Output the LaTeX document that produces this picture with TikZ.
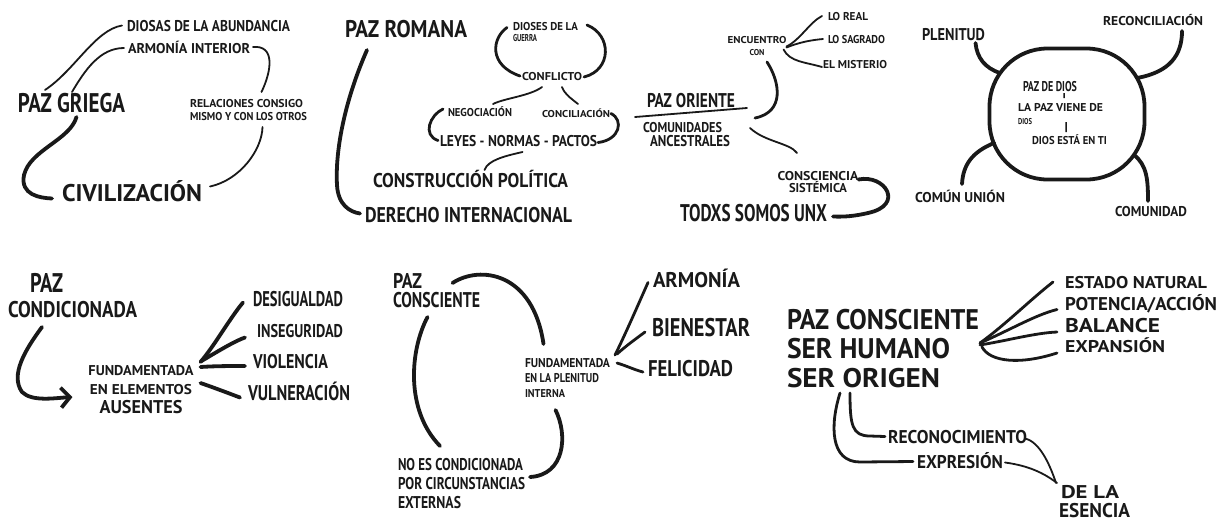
\documentclass[tikz,border=0pt]{standalone}
\usepackage{graphicx}
\usepackage{fontspec}
\setmainfont{PT Sans}
\usetikzlibrary{calc,arrows.meta,shapes.geometric}
\newcommand\lb[3]{\resizebox{#1pt}{#2pt}{\vphantom{A}\smash{#3}}}
\tikzset{
 lbl/.style={inner sep=0pt, outer sep=0pt, font=\bfseries\fontsize{10}{#1}\selectfont, text=black!90},
 lbl/.default=12,
 lnA/.style={line width=1.8pt, line cap=round, draw=black!90},
 lnB/.style={line width=2.8pt, line cap=round, draw=black!90},
 lnC/.style={line width=3.8pt, line cap=round, draw=black!90},
}
\begin{document}
\begin{tikzpicture}[x=1pt,y=-1pt]
\useasboundingbox (0,0) rectangle (1225,523);
% ---------- Paz griega
\node[lbl,anchor=north west] (dios) at (127,20) {\lb{163}{11}{DIOSAS DE LA ABUNDANCIA}};
\node[lbl,anchor=north west] (armi) at (128,43) {\lb{122}{10}{ARMONÍA INTERIOR}};
\node[lbl,anchor=north west] (pg) at (18,93) {\lb{107}{19}{PAZ GRIEGA}};
\node[lbl=13,anchor=north west,align=left] (rel) at (190,99) {\lb{113}{8}{RELACIONES CONSIGO}\\\lb{117}{8}{MISMO Y CON LOS OTROS}};
\node[lbl,anchor=north west] (civ) at (62,184) {\lb{140}{17}{CIVILIZACIÓN}};
\draw[lnA] ($(pg.north west)+(27,-3)$) .. controls (75,70) and (95,30) .. ($(dios.west)+(-5,0)$);
\draw[lnA] ($(pg.north west)+(54,-1)$) .. controls (85,70) and (100,48) .. ($(armi.west)+(-4,0)$);
\draw[lnA] ($(armi.east)+(3,-1)$) .. controls (275,45) and (272,70) .. ($(rel.north)+(13,-7)$);
\draw[lnA] ($(rel.south)+(14,7)$) .. controls (262,150) and (240,180) .. ($(civ.east)+(8,-6)$);
\draw[lnC] ($(pg.south)+(5,5)$) .. controls (70,140) and (30,150) .. (24,175) .. controls (20,195) and (40,198) .. ($(civ.west)+(-10,6)$);
% ---------- Paz romana
\node[lbl,anchor=north west] (pr) at (345,20) {\lb{122}{17}{PAZ ROMANA}};
\node[lbl=11,anchor=north west,align=left] (dg) at (513,22) {\lb{65}{8}{DIOSES DE LA}\\\lb{24}{7}{GUERRA}};
\node[lbl,anchor=north west] (conf) at (522,72) {\lb{60}{8}{CONFLICTO}};
\node[lbl,anchor=north west] (neg) at (448,108) {\lb{64}{8}{NEGOCIACIÓN}};
\node[lbl,anchor=north west] (conc) at (542,110) {\lb{68}{7}{CONCILIACIÓN}};
\node[lbl,anchor=north west] (leyes) at (440,135) {\lb{157}{11}{LEYES - NORMAS - PACTOS}};
\node[lbl,anchor=north west] (cp) at (373,173) {\lb{195}{14}{CONSTRUCCIÓN POLÍTICA}};
\node[lbl,anchor=north west] (di) at (365,207) {\lb{207}{15}{DERECHO INTERNACIONAL}};
\draw[lnC] ($(pr.south west)+(22,13)$) .. controls (345,100) and (335,150) .. (337,185) .. controls (338,205) and (350,212) .. ($(di.west)+(-5,-1)$);
\draw[lnB] ($(dg.west)+(-6,-4)$) .. controls (492,38) and (488,65) .. ($(conf.west)+(-2,0)$);
\draw[lnB] ($(dg.north east)+(9,3)$) .. controls (612,35) and (612,70) .. ($(conf.east)+(2,1)$);
\draw[lnA] ($(conf.south)+(-10,7)$) .. controls (530,96) and (505,98) .. ($(neg.north)+(13,-4)$);
\draw[lnA] ($(conf.south)+(10,7)$) .. controls (565,95) and (572,99) .. ($(conc.north)+(2,-6)$);
\draw[lnB] ($(neg.west)+(-5,-3)$) .. controls (430,115) and (422,135) .. ($(leyes.west)+(-2,0)$);
\draw[lnB] ($(conc.east)+(1,0)$) .. controls (624,120) and (620,140) .. ($(leyes.east)+(1,2)$);
\draw[lnA] ($(leyes.south)+(4,6)$) .. controls (505,156) and (488,160) .. ($(cp.north)+(14,-3)$);
% ---------- Paz oriente
\node[lbl,anchor=north west] (po) at (647,93) {\lb{88}{14}{PAZ ORIENTE}};
\draw[lnA] ($(po.south west)+(-12,10)$) -- ($(po.south east)+(12,1)$);
\node[lbl=14,anchor=north west,align=left] (ca) at (643,122) {\lb{79}{10}{COMUNIDADES}\\\hspace*{7pt}\lb{80}{11}{ANCESTRALES}};
\node[lbl=12,anchor=north,align=center] (enc) at (757,36) {\lb{59}{7}{ENCUENTRO}\\\lb{15}{6}{CON}};
\node[lbl,anchor=north west] (lreal) at (828,12) {\lb{40}{8}{LO REAL}};
\node[lbl,anchor=north west] (lsag) at (828,35) {\lb{57}{8}{LO SAGRADO}};
\node[lbl,anchor=north west] (mist) at (823,60) {\lb{64}{8}{EL MISTERIO}};
\node[lbl=12,anchor=north,align=center] (csis) at (818,171) {\lb{81}{9}{CONSCIENCIA}\\\lb{58}{9}{SISTÉMICA}};
\node[lbl,anchor=north west] (todx) at (680,204) {\lb{147}{17}{TODXS SOMOS UNX}};
\draw[lnB] ($(enc.south)+(10,7)$) .. controls (780,82) and (785,112) .. ($(po.south east)+(20,11)$);
\draw[lnA] ($(enc.east)+(0,1)$) .. controls (800,40) and (810,22) .. ($(lreal.west)+(-6,0)$);
\draw[lnA] ($(enc.east)+(0,2)$) .. controls (800,42) and (812,40) .. ($(lsag.west)+(-5,0)$);
\draw[lnA] ($(enc.east)+(-3,4)$) .. controls (790,62) and (805,62) .. ($(mist.west)+(-1,3)$);
\draw[lnA] ($(ca.north east)+(20,6)$) .. controls (765,142) and (790,143) .. ($(csis.north)+(-21,-18)$);
\draw[lnC] ($(csis.east)+(0,-2)$) .. controls (885,174) and (905,205) .. (868,213) .. controls (855,216) and (845,217) .. ($(todx.east)+(6,4)$);
% ---------- Paz de Dios
\node[draw=black!90, rectangle, rounded corners=58pt, line width=3.8pt, minimum width=155pt, minimum height=131pt, inner sep=0pt] (circ) at (1067,114) {};
\node[lbl,anchor=north west] (pdd) at (1023,81) {\lb{54}{10}{PAZ DE DIOS}};
\node[lbl=13,anchor=north west,align=left] (lpv) at (1018,103) {\lb{85}{8}{LA PAZ VIENE DE}\\\lb{14}{6}{DIOS}};
\node[lbl,anchor=north west] (det) at (1032,136) {\lb{75}{8}{DIOS ESTÁ EN TI}};
\draw[line width=1.5pt, draw=black!90] ($(pdd.south)+(14,2)$) -- ($(lpv.north)+(3.5,-5)$);
\draw[line width=1.5pt, draw=black!90] ($(lpv.south)+(5.5,-2)$) -- ($(det.north)+(-3.5,-4)$);
\node[lbl,anchor=north west] (plen) at (922,28) {\lb{63}{12}{PLENITUD}};
\node[lbl,anchor=north west] (reco) at (1103,16) {\lb{100}{9}{RECONCILIACIÓN}};
\node[lbl,anchor=north west] (cu) at (915,192) {\lb{90}{10}{COMÚN UNIÓN}};
\node[lbl,anchor=north west] (comu) at (1115,206) {\lb{72}{10}{COMUNIDAD}};
\draw[lnC] ($(plen.south)+(22,3)$) .. controls (977,58) and (985,68) .. ($(circ.center)+(-67,-41)$);
\draw[lnC] ($(reco.south)+(29,6)$) .. controls (1182,55) and (1170,72) .. ($(circ.center)+(70,-36)$);
\draw[lnC] ($(circ.center)+(-73,29)$) .. controls (972,152) and (963,165) .. ($(cu.north)+(2,-8)$);
\draw[lnC] ($(circ.center)+(67,41)$) .. controls (1147,165) and (1148,180) .. ($(comu.north)+(-3,-5)$);
% ---------- Paz condicionada
\node[lbl=25,anchor=north west,align=left] (pcond) at (8,273) {\hspace*{22pt}\lb{33}{19}{PAZ}\\\lb{129}{16}{CONDICIONADA}};
\node[lbl=19,anchor=north,align=center] (fea) at (141,365) {\lb{105}{10}{FUNDAMENTADA}\\\lb{102}{10}{EN ELEMENTOS}\\\lb{83}{13}{AUSENTES}};
\node[lbl,anchor=north west] (desig) at (253,291) {\lb{90}{15}{DESIGUALDAD}};
\node[lbl,anchor=north west] (inseg) at (257,324) {\lb{86}{13}{INSEGURIDAD}};
\node[lbl,anchor=north west] (viol) at (253,354) {\lb{75}{14}{VIOLENCIA}};
\node[lbl,anchor=north west] (vuln) at (248,385) {\lb{102}{15}{VULNERACIÓN}};
\draw[lnC,-{Straight Barb[length=9pt,width=20pt]}] ($(pcond.south west)+(34,10)$) .. controls (25,350) and (10,375) .. (22,392) .. controls (32,402) and (55,398) .. ($(fea.west)+(-16,8)$);
\draw[lnC] ($(fea.north east)+(7,-3)$) .. controls (215,345) and (230,318) .. ($(desig.west)+(-10,4)$);
\draw[lnC] ($(fea.north east)+(8,-4)$) .. controls (220,350) and (235,341) .. ($(inseg.west)+(-12,7)$);
\draw[lnC] ($(fea.north east)+(7,2)$) .. controls (215,366) and (230,366) .. ($(viol.west)+(-8,5)$);
\draw[lnC] ($(fea.east)+(7,-6)$) .. controls (215,388) and (228,393) .. ($(vuln.west)+(-8,5)$);
% ---------- Paz consciente
\node[lbl=19,anchor=north west,align=left] (pcons) at (393,273) {\lb{29}{15}{PAZ}\\\lb{87}{15}{CONSCIENTE}};
\node[lbl=15,anchor=north west,align=left] (fpi) at (525,358) {\lb{85}{9}{FUNDAMENTADA}\\\lb{74}{9}{EN LA PLENITUD}\\\lb{40}{8}{INTERNA}};
\node[lbl=19,anchor=north west,align=left] (nocond) at (398,458) {\lb{125}{12}{NO ES CONDICIONADA}\\\lb{127}{12}{POR CIRCUNSTANCIAS}\\\lb{63}{12}{EXTERNAS}};
\node[lbl,anchor=north west] (arm) at (653,272) {\lb{87}{15}{ARMONÍA}};
\node[lbl,anchor=north west] (bien) at (652,318) {\lb{98}{18}{BIENESTAR}};
\node[lbl,anchor=north west] (feli) at (648,360) {\lb{85}{16}{FELICIDAD}};
\draw[lnC] ($(pcons.north)+(16,10)$) .. controls (480,265) and (533,272) .. ($(fpi.north)+(-24,-14)$);
\draw[lnC] ($(pcons.south)+(-9,10)$) .. controls (410,350) and (405,410) .. ($(nocond.north west)+(42,-12)$);
\draw[lnC] ($(fpi.south)+(-12,13)$) .. controls (568,435) and (565,475) .. ($(nocond.east)+(5,-6)$);
\draw[lnB] ($(fpi.north east)+(5,-3)$) .. controls (625,335) and (638,305) .. ($(arm.west)+(-5,3)$);
\draw[lnB] ($(fpi.north east)+(7,-4)$) .. controls (627,345) and (637,338) .. ($(bien.west)+(-7,5)$);
\draw[lnB] ($(fpi.north east)+(7,5)$) .. controls (627,366) and (635,370) .. ($(feli.west)+(-5,4)$);
% ---------- Paz consciente / ser humano / ser origen
\node[lbl=29,anchor=north west,align=left] (pser) at (787,309) {\lb{192}{20}{PAZ CONSCIENTE}\\\lb{163}{20}{SER HUMANO}\\\lb{153}{19}{SER ORIGEN}};
\node[lbl,anchor=north west] (est) at (1065,276) {\lb{142}{12}{ESTADO NATURAL}};
\node[lbl,anchor=north west] (pot) at (1065,297) {\lb{152}{13}{POTENCIA/ACCIÓN}};
\node[lbl,anchor=north west] (bal) at (1065,318) {\lb{95}{14}{BALANCE}};
\node[lbl,anchor=north west] (exp) at (1065,340) {\lb{100}{12}{EXPANSIÓN}};
\node[lbl,anchor=north west] (recon) at (888,430) {\lb{139}{13}{RECONOCIMIENTO}};
\node[lbl,anchor=north west] (expr) at (917,455) {\lb{86}{13}{EXPRESIÓN}};
\node[lbl=19,anchor=north west,align=left] (dle) at (1059,485) {\hspace*{2pt}\lb{58}{13}{DE LA}\\\lb{71}{14}{ESENCIA}};
\draw[lnB] ($(pser.east)+(1,-5)$) .. controls (1005,325) and (1030,300) .. ($(est.west)+(-12,0)$);
\draw[lnB] ($(pser.east)+(1,-5)$) .. controls (1010,330) and (1035,315) .. ($(pot.west)+(-8,6)$);
\draw[lnB] ($(pser.east)+(1,-3)$) .. controls (1010,340) and (1035,333) .. ($(bal.west)+(-8,7)$);
\draw[lnB] ($(pser.east)+(3,-1)$) .. controls (990,362) and (1020,365) .. ($(exp.west)+(-8,7)$);
\draw[lnB] ($(pser.south west)+(53,6)$) .. controls (830,425) and (830,462) .. (860,462) -- ($(expr.west)+(-4,0)$);
\draw[lnB] ($(pser.south west)+(63,6)$) .. controls (850,425) and (852,436) .. (870,436) -- ($(recon.west)+(-3,0)$);
\draw[lnA] ($(recon.east)+(-2,2)$) .. controls (1040,442) and (1050,465) .. ($(dle.north west)+(-3,-2)$);
\draw[lnA] ($(expr.east)+(2,1)$) .. controls (1023,465) and (1040,470) .. ($(dle.north west)+(-2,-2)$);
\end{tikzpicture}
\end{document}
